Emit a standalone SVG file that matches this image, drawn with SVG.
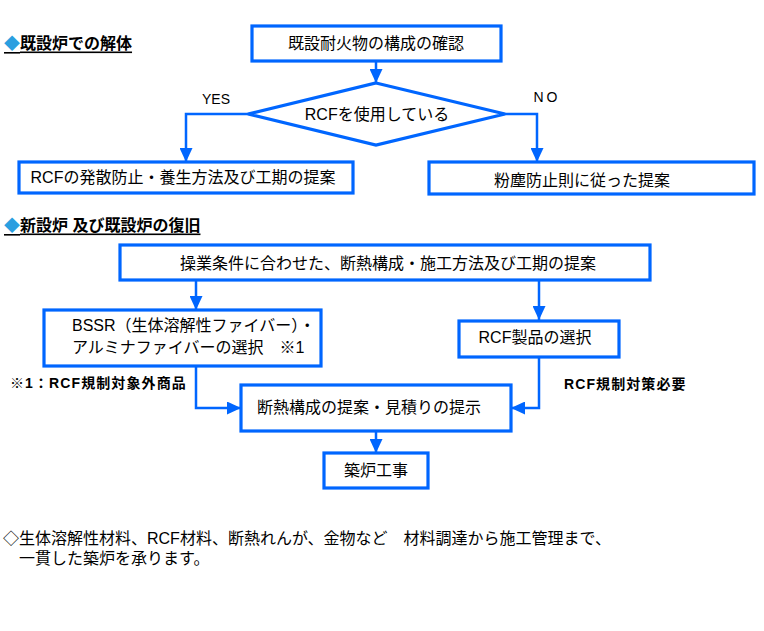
<svg xmlns="http://www.w3.org/2000/svg" width="764" height="631" viewBox="0 0 764 631">
<defs>
<marker id="arr" viewBox="0 0 14 13" markerUnits="userSpaceOnUse" markerWidth="14" markerHeight="13" refX="14" refY="6.5" orient="auto">
<path d="M0,0 L14,6.5 L0,13 z" fill="#0066ff"/>
</marker>
<style>
text{font-family:"Liberation Sans","Noto Sans CJK JP",sans-serif;font-size:16px;fill:#000;dominant-baseline:central}
.box{fill:#fff;stroke:#0066ff;stroke-width:3.2}
.con{fill:none;stroke:#0066ff;stroke-width:2.5}
.hd{font-weight:bold;text-decoration:underline}
.lb{font-weight:bold;font-size:14px;letter-spacing:1.1px}
.m{text-anchor:middle}
</style>
</defs>
<rect width="764" height="631" fill="#fff"/>

<g id="header1"><text x="4" y="43" class="hd"><tspan fill="#2a9fe0" style="text-decoration:none">◆</tspan>既設炉での解体</text></g>
<g id="header2"><text x="4" y="225" class="hd"><tspan fill="#2a9fe0" style="text-decoration:none">◆</tspan>新設炉 及び既設炉の復旧</text></g>

<g id="connectors">
<path class="con" d="M376,61 V83" marker-end="url(#arr)"/>
<path class="con" d="M248,114 H186 V162" marker-end="url(#arr)"/>
<path class="con" d="M505,114 H537 V162" marker-end="url(#arr)"/>
<path class="con" d="M196,281 V310" marker-end="url(#arr)"/>
<path class="con" d="M539,281 V320" marker-end="url(#arr)"/>
<path class="con" d="M196,366 V408 H241" marker-end="url(#arr)"/>
<path class="con" d="M539,357 V408 H511" marker-end="url(#arr)"/>
<path class="con" d="M376,431 V453" marker-end="url(#arr)"/>
</g>

<g id="n_check"><rect class="box" x="252" y="26" width="249" height="35"/><text x="376" y="43" class="m">既設耐火物の構成の確認</text></g>
<g id="n_decision"><polygon class="box" points="376,83 505,114 376,145 248,114"/><text x="377" y="114" class="m">RCFを使用している</text></g>
<g id="l_yes"><text x="216" y="99" class="m" style="font-size:14px">YES</text></g>
<g id="l_no"><text x="547" y="97" class="m" style="font-size:14px;letter-spacing:3px">NO</text></g>
<g id="n_yes"><rect class="box" x="19" y="162" width="334" height="31"/><text x="183" y="177" class="m">RCFの発散防止・養生方法及び工期の提案</text></g>
<g id="n_no"><rect class="box" x="429" y="162" width="325" height="32"/><text x="582" y="180" class="m">粉塵防止則に従った提案</text></g>

<g id="n_plan"><rect class="box" x="120" y="245" width="530" height="35"/><text x="388" y="263" class="m">操業条件に合わせた、断熱構成・施工方法及び工期の提案</text></g>
<g id="n_bssr"><rect class="box" x="44" y="310" width="277" height="56"/><text x="72" y="325">BSSR（生体溶解性ファイバー）・</text><text x="72" y="347">アルミナファイバーの選択　※1</text></g>
<g id="n_rcf"><rect class="box" x="459" y="321" width="160" height="36"/><text x="535" y="337" class="m">RCF製品の選択</text></g>
<g id="l_note1"><text x="10" y="383" class="lb">※1：RCF規制対象外商品</text></g>
<g id="l_note2"><text x="564" y="384" class="lb">RCF規制対策必要</text></g>
<g id="n_proposal"><rect class="box" x="241" y="385" width="270" height="46"/><text x="369" y="407" class="m">断熱構成の提案・見積りの提示</text></g>
<g id="n_build"><rect class="box" x="324" y="453" width="104" height="35"/><text x="376" y="470" class="m">築炉工事</text></g>

<g id="footer">
<text x="3" y="538">◇生体溶解性材料、RCF材料、断熱れんが、金物など　材料調達から施工管理まで、</text>
<text x="3" y="558">　一貫した築炉を承ります。</text>
</g>
</svg>
